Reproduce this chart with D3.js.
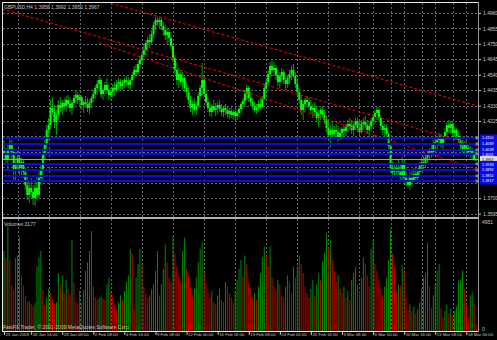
<!DOCTYPE html>
<html>
<head>
<meta charset="utf-8">
<script src="https://cdn.jsdelivr.net/npm/d3@7"></script>
<style>
body { margin: 0; background: #000; }
svg { display: block; }
text { font-family: "Liberation Sans", Arial, sans-serif; }
</style>
</head>
<body>
<div id="chart"></div>
<script>
// GBPUSD H4 bars
const opens = [
 1.4028,1.3994,1.3960,1.4028,1.4062,1.4014,1.3892,1.3926,1.3974,1.3906,
 1.3946,1.3878,1.3790,1.3722,1.3770,1.3742,1.3702,1.3770,1.3722,1.3838,
 1.3892,1.3994,1.4062,1.4164,1.4198,1.4314,1.4286,1.4218,1.4266,1.4334,
 1.4314,1.4348,1.4327,1.4368,1.4341,1.4314,1.4348,1.4382,1.4402,1.4368,
 1.4388,1.4334,1.4354,1.4341,1.4314,1.4348,1.4382,1.4409,1.4450,1.4477,
 1.4504,1.4409,1.4436,1.4470,1.4436,1.4402,1.4422,1.4450,1.4436,1.4477,
 1.4490,1.4463,1.4484,1.4504,1.4490,1.4470,1.4504,1.4538,1.4572,1.4558,
 1.4613,1.4640,1.4674,1.4708,1.4756,1.4776,1.4762,1.4817,1.4878,1.4912,
 1.4898,1.4912,1.4871,1.4844,1.4810,1.4830,1.4790,1.4735,1.4654,1.4572,
 1.4504,1.4545,1.4490,1.4518,1.4450,1.4422,1.4368,1.4314,1.4341,1.4300,
 1.4327,1.4395,1.4450,1.4504,1.4409,1.4354,1.4314,1.4286,1.4327,1.4300,
 1.4314,1.4334,1.4307,1.4286,1.4314,1.4300,1.4273,1.4293,1.4266,1.4286,
 1.4259,1.4280,1.4307,1.4341,1.4361,1.4409,1.4450,1.4382,1.4354,1.4327,
 1.4300,1.4314,1.4341,1.4320,1.4375,1.4450,1.4490,1.4545,1.4599,1.4572,
 1.4586,1.4538,1.4490,1.4531,1.4558,1.4504,1.4477,1.4518,1.4545,1.4572,
 1.4531,1.4477,1.4422,1.4368,1.4300,1.4341,1.4368,1.4354,1.4327,1.4300,
 1.4314,1.4286,1.4246,1.4273,1.4300,1.4266,1.4232,1.4178,1.4130,1.4164,
 1.4137,1.4164,1.4150,1.4110,1.4144,1.4171,1.4157,1.4184,1.4205,1.4191,
 1.4164,1.4198,1.4225,1.4178,1.4150,1.4205,1.4218,1.4198,1.4164,1.4191,
 1.4225,1.4252,1.4280,1.4300,1.4246,1.4191,1.4164,1.4178,1.4137,1.4055,
 1.3906,1.3878,1.3892,1.3906,1.3878,1.3851,1.3933,1.3838,1.3810,1.3790,
 1.3838,1.3824,1.3865,1.3838,1.3878,1.3919,1.3946,1.3933,1.3974,1.4001,
 1.4028,1.4014,1.4062,1.4082,1.4096,1.4116,1.4069,1.4103,1.4150,1.4198,
 1.4178,1.4205,1.4144,1.4164,1.4123,1.4096,1.4055,1.4028,1.4062,1.4042,
 1.4014,1.4028,1.3994,1.3958]
const highs = [
 1.4096,1.4042,1.4062,1.4110,1.4096,1.4028,1.3960,1.4028,1.3994,1.3974,
 1.3960,1.3906,1.3858,1.3824,1.3838,1.3790,1.3810,1.3858,1.3892,1.3926,
 1.4028,1.4096,1.4198,1.4246,1.4368,1.4382,1.4334,1.4300,1.4368,1.4388,
 1.4368,1.4382,1.4395,1.4402,1.4388,1.4368,1.4402,1.4436,1.4422,1.4409,
 1.4402,1.4368,1.4395,1.4382,1.4368,1.4395,1.4436,1.4470,1.4504,1.4531,
 1.4518,1.4450,1.4490,1.4518,1.4477,1.4450,1.4477,1.4490,1.4504,1.4518,
 1.4511,1.4504,1.4518,1.4531,1.4524,1.4518,1.4558,1.4599,1.4613,1.4640,
 1.4667,1.4694,1.4742,1.4776,1.4803,1.4817,1.4844,1.4898,1.4932,1.4932,
 1.4926,1.4932,1.4898,1.4878,1.4858,1.4858,1.4830,1.4749,1.4674,1.4626,
 1.4586,1.4572,1.4558,1.4538,1.4490,1.4450,1.4395,1.4368,1.4382,1.4354,
 1.4422,1.4470,1.4620,1.4538,1.4436,1.4382,1.4354,1.4341,1.4368,1.4348,
 1.4354,1.4368,1.4341,1.4327,1.4341,1.4327,1.4314,1.4320,1.4300,1.4314,
 1.4293,1.4327,1.4354,1.4382,1.4436,1.4470,1.4463,1.4422,1.4382,1.4354,
 1.4341,1.4368,1.4382,1.4395,1.4477,1.4518,1.4572,1.4626,1.4640,1.4626,
 1.4606,1.4572,1.4558,1.4586,1.4572,1.4531,1.4538,1.4572,1.4599,1.4613,
 1.4558,1.4504,1.4450,1.4402,1.4368,1.4382,1.4395,1.4382,1.4368,1.4341,
 1.4354,1.4327,1.4300,1.4314,1.4327,1.4300,1.4259,1.4232,1.4198,1.4218,
 1.4191,1.4205,1.4191,1.4178,1.4184,1.4198,1.4205,1.4232,1.4246,1.4232,
 1.4218,1.4252,1.4246,1.4218,1.4232,1.4246,1.4259,1.4232,1.4218,1.4246,
 1.4273,1.4300,1.4320,1.4314,1.4266,1.4218,1.4205,1.4205,1.4150,1.4069,
 1.3946,1.3926,1.3940,1.3960,1.3926,1.3980,1.3960,1.3892,1.3858,1.3878,
 1.3892,1.3906,1.3919,1.3906,1.3946,1.3974,1.3987,1.3994,1.4028,1.4042,
 1.4069,1.4096,1.4110,1.4123,1.4144,1.4137,1.4123,1.4178,1.4218,1.4232,
 1.4225,1.4218,1.4184,1.4178,1.4150,1.4123,1.4096,1.4082,1.4096,1.4069,
 1.4055,1.4048,1.4028,1.3992]
const lows = [
 1.3960,1.3926,1.3892,1.3994,1.3960,1.3824,1.3810,1.3892,1.3858,1.3838,
 1.3838,1.3756,1.3688,1.3668,1.3702,1.3654,1.3647,1.3688,1.3702,1.3790,
 1.3810,1.3960,1.4028,1.4096,1.4164,1.4266,1.4178,1.4130,1.4232,1.4286,
 1.4266,1.4300,1.4286,1.4314,1.4286,1.4266,1.4314,1.4354,1.4341,1.4327,
 1.4300,1.4280,1.4314,1.4286,1.4273,1.4314,1.4354,1.4375,1.4402,1.4422,
 1.4382,1.4368,1.4395,1.4409,1.4368,1.4368,1.4382,1.4395,1.4422,1.4436,
 1.4443,1.4436,1.4450,1.4463,1.4450,1.4436,1.4477,1.4518,1.4531,1.4545,
 1.4586,1.4613,1.4654,1.4674,1.4708,1.4722,1.4742,1.4790,1.4844,1.4871,
 1.4858,1.4844,1.4803,1.4776,1.4749,1.4762,1.4708,1.4626,1.4538,1.4470,
 1.4450,1.4463,1.4436,1.4422,1.4382,1.4341,1.4286,1.4266,1.4280,1.4266,
 1.4314,1.4368,1.4402,1.4382,1.4327,1.4286,1.4259,1.4252,1.4286,1.4259,
 1.4273,1.4286,1.4259,1.4252,1.4266,1.4246,1.4239,1.4246,1.4232,1.4239,
 1.4232,1.4252,1.4273,1.4300,1.4327,1.4368,1.4354,1.4327,1.4300,1.4280,
 1.4273,1.4286,1.4300,1.4314,1.4368,1.4422,1.4463,1.4518,1.4558,1.4531,
 1.4504,1.4463,1.4450,1.4490,1.4477,1.4436,1.4450,1.4477,1.4504,1.4518,
 1.4450,1.4395,1.4341,1.4266,1.4232,1.4286,1.4314,1.4300,1.4273,1.4246,
 1.4259,1.4218,1.4184,1.4232,1.4246,1.4205,1.4150,1.4096,1.4042,1.4110,
 1.4096,1.4123,1.4082,1.4096,1.4103,1.4116,1.4123,1.4150,1.4164,1.4137,
 1.4123,1.4164,1.4150,1.4123,1.4137,1.4164,1.4178,1.4137,1.4116,1.4150,
 1.4178,1.4205,1.4232,1.4218,1.4164,1.4130,1.4123,1.4110,1.4028,1.3872,
 1.3838,1.3844,1.3851,1.3858,1.3824,1.3810,1.3790,1.3783,1.3770,1.3756,
 1.3797,1.3810,1.3824,1.3797,1.3851,1.3878,1.3892,1.3906,1.3933,1.3960,
 1.3974,1.3987,1.4014,1.4028,1.4055,1.4042,1.4028,1.4082,1.4123,1.4144,
 1.4137,1.4116,1.4096,1.4096,1.4062,1.4028,1.4008,1.4001,1.4014,1.3987,
 1.3974,1.3960,1.3953,1.3950]
const closes = [
 1.3994,1.3960,1.4028,1.4062,1.4014,1.3892,1.3926,1.3974,1.3906,1.3946,
 1.3878,1.3790,1.3722,1.3770,1.3742,1.3702,1.3770,1.3722,1.3838,1.3892,
 1.3994,1.4062,1.4164,1.4198,1.4314,1.4286,1.4218,1.4266,1.4334,1.4314,
 1.4348,1.4327,1.4368,1.4341,1.4314,1.4348,1.4382,1.4402,1.4368,1.4388,
 1.4334,1.4354,1.4341,1.4314,1.4348,1.4382,1.4409,1.4450,1.4477,1.4504,
 1.4409,1.4436,1.4470,1.4436,1.4402,1.4422,1.4450,1.4436,1.4477,1.4490,
 1.4463,1.4484,1.4504,1.4490,1.4470,1.4504,1.4538,1.4572,1.4558,1.4613,
 1.4640,1.4674,1.4708,1.4756,1.4776,1.4762,1.4817,1.4878,1.4912,1.4898,
 1.4912,1.4871,1.4844,1.4810,1.4830,1.4790,1.4735,1.4654,1.4572,1.4504,
 1.4545,1.4490,1.4518,1.4450,1.4422,1.4368,1.4314,1.4341,1.4300,1.4327,
 1.4395,1.4450,1.4504,1.4409,1.4354,1.4314,1.4286,1.4327,1.4300,1.4314,
 1.4334,1.4307,1.4286,1.4314,1.4300,1.4273,1.4293,1.4266,1.4286,1.4259,
 1.4280,1.4307,1.4341,1.4361,1.4409,1.4450,1.4382,1.4354,1.4327,1.4300,
 1.4314,1.4341,1.4320,1.4375,1.4450,1.4490,1.4545,1.4599,1.4572,1.4586,
 1.4538,1.4490,1.4531,1.4558,1.4504,1.4477,1.4518,1.4545,1.4572,1.4531,
 1.4477,1.4422,1.4368,1.4300,1.4341,1.4368,1.4354,1.4327,1.4300,1.4314,
 1.4286,1.4246,1.4273,1.4300,1.4266,1.4232,1.4178,1.4130,1.4164,1.4137,
 1.4164,1.4150,1.4110,1.4144,1.4171,1.4157,1.4184,1.4205,1.4191,1.4164,
 1.4198,1.4225,1.4178,1.4150,1.4205,1.4218,1.4198,1.4164,1.4191,1.4225,
 1.4252,1.4280,1.4300,1.4246,1.4191,1.4164,1.4178,1.4137,1.4055,1.3906,
 1.3878,1.3892,1.3906,1.3878,1.3851,1.3933,1.3838,1.3810,1.3790,1.3838,
 1.3824,1.3865,1.3838,1.3878,1.3919,1.3946,1.3933,1.3974,1.4001,1.4028,
 1.4014,1.4062,1.4082,1.4096,1.4116,1.4069,1.4103,1.4150,1.4198,1.4178,
 1.4205,1.4144,1.4164,1.4123,1.4096,1.4055,1.4028,1.4062,1.4042,1.4014,
 1.4028,1.3994,1.3960,1.3967]
const volumes = [
 3600,3300,4700,3200,2050,1830,3300,3400,4200,2500,
 2050,1600,1300,1350,1200,1100,1250,2900,3300,3600,
 1830,1150,1500,1900,1700,1400,1200,1300,2600,2100,
 2500,1700,2300,1900,1600,4100,2200,1300,1250,1800,
 1300,1850,2700,3100,3600,4500,2000,1500,1400,1500,
 1550,1450,1400,2100,2400,1750,1550,1200,1000,1300,
 1600,1400,1800,2200,2500,3700,3500,950,2400,3000,
 3700,3000,2000,1700,1500,1600,1900,2100,2700,3600,
 1600,2100,2800,3900,3100,2400,2200,4300,3500,2900,
 2500,2200,3600,4200,2800,2500,2000,1600,1900,2400,
 3100,3700,4000,2700,2100,1700,1500,1800,1300,1200,
 1600,1900,1400,1300,2200,2000,1700,1500,1300,1800,
 2300,2800,3200,2500,3400,3000,2200,1900,1500,1700,
 1400,2000,2600,3300,3800,3500,2900,3800,2400,2000,
 1800,2300,2100,1600,1500,2000,2500,2200,1700,2900,
 2400,2800,3400,3000,2600,2000,1700,1500,1900,2300,
 1600,2100,2600,2300,3100,3500,4400,3800,4100,3200,
 2700,2200,2500,1900,1700,2000,1500,1800,1400,2300,
 2600,2900,2100,1800,2400,3300,3000,2500,2000,3700,
 4100,3000,2700,2300,1900,1600,2000,2400,3200,4600,
 3500,2900,1800,2100,2050,2950,2800,1500,940,1200,
 900,1100,800,1000,1300,1900,2400,2600,3970,2000,
 1050,1600,2100,2720,3030,1030,620,900,1200,800,
 1000,700,900,1100,2270,2300,2720,1900,1160,620,
 1600,1740,1200,300]

const priceTicks = [1.4960,1.4855,1.4750,1.4645,1.4540,1.4435,1.4330,1.4225,1.4120,1.4015,1.3910,1.3805,1.3700,1.3595]
const timeTickBars = [0,14,30,46,62,78,94,110,126,142,158,174,190,206,222,238]
const timeLabels = ['23 Jan 2009','26 Jan 16:00','28 Jan 08:00','2 Feb 08:00','4 Feb 16:00','9 Feb 08:00','12 Feb 00:00','16 Feb 16:00','19 Feb 08:00','24 Feb 00:00','26 Feb 16:00','3 Mar 08:00','6 Mar 00:00','10 Mar 16:00','13 Mar 08:00','18 Mar 00:00']
const gridBars = [7,23,39,55,71,87,103,119,135,151,167,183,199,215,231,190,206,222,238]
// horizontal levels (blue) and bid
const levels = [1.4110,1.4069,1.4028,1.4001,1.3933,1.3892,1.3851,1.3817]
const bid = 1.3967
// trend lines as [bar, price] pairs
const trendA = [[55,1.5026],[244,1.4327]]
const trendB = [[-1,1.4987],[244,1.4055]]
const trendC = [[49,1.4756],[244,1.3892]]
const volMax = 4951

const W = 497, H = 340
const svg = d3.select('#chart').append('svg')
    .attr('width', W).attr('height', H)
svg.append('rect').attr('width', W).attr('height', H).attr('fill', '#000')

const xPos = d3.scaleLinear().domain([-0.5, closes.length - 0.5]).range([3, 477])
const yPrice = d3.scaleLinear().domain([1.3572, 1.5028]).range([217, 3])
const yVol = d3.scaleLinear().domain([0, volMax]).range([331, 221])

svg.append('clipPath').attr('id', 'pclip')
    .append('rect').attr('x', 3).attr('y', 3).attr('width', 476).attr('height', 214)

//grid
const grid = svg.append('g')
    .attr('stroke', '#5f6773').attr('stroke-dasharray', '2,2').attr('stroke-width', 1)
priceTicks.forEach(t => {
    const y = Math.round(yPrice(t)) + 0.5
    grid.append('line').attr('x1', 3).attr('x2', 479).attr('y1', y).attr('y2', y)
})
gridBars.forEach(b => {
    const x = Math.round(xPos(b)) + 0.5
    grid.append('line').attr('x1', x).attr('x2', x).attr('y1', 3).attr('y2', 331)
})

//volumes
svg.append('g').selectAll('rect')
    .data(volumes)
    .join('rect')
    .attr('x', (d, i) => xPos(i) - 0.45)
    .attr('width', 0.9)
    .attr('y', d => yVol(d))
    .attr('height', d => 331 - yVol(d))
    .attr('fill', (d, i) => (i > 0 && d < volumes[i - 1]) ? '#d80000' : '#009a00')

//candles
const bars = d3.range(closes.length)
const cg = svg.append('g').attr('clip-path', 'url(#pclip)')
cg.selectAll('line.wick')
    .data(bars)
    .join('line')
    .attr('class', 'wick')
    .attr('x1', i => xPos(i)).attr('x2', i => xPos(i))
    .attr('y1', i => yPrice(highs[i])).attr('y2', i => yPrice(lows[i]))
    .attr('stroke', '#00b800').attr('stroke-width', 0.9)
cg.selectAll('rect.body')
    .data(bars)
    .join('rect')
    .attr('class', 'body')
    .attr('x', i => xPos(i) - 1)
    .attr('width', 2)
    .attr('y', i => Math.min(yPrice(opens[i]), yPrice(closes[i])))
    .attr('height', i => Math.max(1, Math.abs(yPrice(opens[i]) - yPrice(closes[i]))))
    .attr('fill', '#00ff00')

//trend lines
const tline = d3.line().x(d => xPos(d[0])).y(d => yPrice(d[1]))
;[trendA, trendB, trendC].forEach(t => {
    cg.append('path')
        .datum(t)
        .attr('d', tline)
        .attr('fill', 'none')
        .attr('stroke', '#ff0000')
        .attr('stroke-width', 1)
        .attr('stroke-dasharray', '3,2')
})

//blue levels
levels.forEach(l => {
    svg.append('line')
        .attr('x1', 2).attr('x2', 478)
        .attr('y1', yPrice(l)).attr('y2', yPrice(l))
        .attr('stroke', '#0a0ae8').attr('stroke-width', 2)
    svg.append('rect')
        .attr('x', 475.5).attr('y', yPrice(l) - 1.5)
        .attr('width', 3).attr('height', 3)
        .attr('fill', '#7070ff')
})
svg.append('line')
    .attr('x1', 3).attr('x2', 479)
    .attr('y1', Math.round(yPrice(bid)) + 0.5).attr('y2', Math.round(yPrice(bid)) + 0.5)
    .attr('stroke', '#a0a0a0').attr('stroke-width', 1)

//pane separator and frame
svg.append('rect').attr('x', 2).attr('y', 217).attr('width', 477).attr('height', 2).attr('fill', '#b4b4b4')
const frame = svg.append('g').attr('stroke', '#e8e8e8').attr('stroke-width', 1)
frame.append('line').attr('x1', 2).attr('x2', 479).attr('y1', 2.5).attr('y2', 2.5)
frame.append('line').attr('x1', 2.5).attr('x2', 2.5).attr('y1', 2).attr('y2', 332)
frame.append('line').attr('x1', 2).attr('x2', 479).attr('y1', 331.5).attr('y2', 331.5)
frame.append('line').attr('x1', 478.5).attr('x2', 478.5).attr('y1', 2).attr('y2', 332).attr('stroke', '#9a9a9a')

// axis labels hidden behind the level boxes, as in the terminal
const allLevels = levels.concat([bid])
const shownTicks = priceTicks.filter(t => allLevels.every(l => Math.abs(yPrice(t) - yPrice(l)) > 3.6))

//price axis
const pAxis = svg.append('g')
    .attr('transform', 'translate(479,0)')
    .call(d3.axisRight(yPrice).tickValues(shownTicks).tickSize(2).tickPadding(2).tickFormat(d3.format('.4f')))
pAxis.select('.domain').remove()
pAxis.selectAll('line').attr('stroke', '#c8c8c8')
pAxis.selectAll('text').attr('fill', '#c8c8c8').style('font-size', '5px')

// level label positions, nudged so the boxes stay readable
const labelPos = allLevels.map(l => ({ v: l, y: yPrice(l), isBid: l === bid }))
    .sort((a, b) => a.y - b.y)
for (let k = 1; k < labelPos.length; k++) {
    if (labelPos[k].y - labelPos[k - 1].y < 4.8) labelPos[k].y = labelPos[k - 1].y + 4.8
}
labelPos.forEach(p => {
    const g = svg.append('g').attr('transform', `translate(480,${p.y})`)
    g.append('rect').attr('x', 0).attr('y', -3.5).attr('width', 17).attr('height', 7)
        .attr('fill', p.isBid ? '#e0e0e0' : '#0a0ae8')
    g.append('text').attr('x', 2).attr('y', 1.4)
        .attr('fill', p.isBid ? '#000' : '#ffffff')
        .style('font-size', '3.8px').text(d3.format('.4f')(p.v))
})

//time axis
const tAxis = svg.append('g')
    .attr('transform', 'translate(0,332)')
    .call(d3.axisBottom(xPos).tickValues(timeTickBars).tickSize(3).tickFormat((d, k) => timeLabels[k]))
tAxis.select('.domain').remove()
tAxis.selectAll('line').attr('stroke', '#d0d0d0')
tAxis.selectAll('text')
    .attr('text-anchor', 'start').attr('x', 1).attr('y', 1)
    .attr('fill', '#c8c8c8').style('font-size', '4.3px')

//texts
svg.append('text').attr('x', 4).attr('y', 9).attr('fill', '#c8c8c8').style('font-size', '5px')
    .text('GBPUSD,H4 1.3958 1.3992 1.3950 1.3967')
svg.append('text').attr('x', 4).attr('y', 226).attr('fill', '#c8c8c8').style('font-size', '5px')
    .text('Volumes 3177')
svg.append('text').attr('x', 3).attr('y', 329).attr('fill', '#c8c8c8').style('font-size', '5px')
    .text('FastFX Trader, © 2001-2009 MetaQuotes Software Corp.')
svg.append('text').attr('x', 482).attr('y', 224).attr('fill', '#c8c8c8').style('font-size', '5px').text(volMax)
svg.append('text').attr('x', 482).attr('y', 331).attr('fill', '#c8c8c8').style('font-size', '5px').text('0')
</script>
</body>
</html>
